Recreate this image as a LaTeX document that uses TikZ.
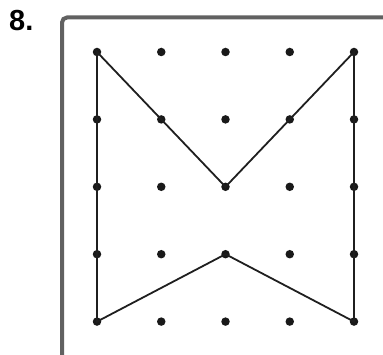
\documentclass[tikz,border=0pt]{standalone}
\usepackage{fontspec}
\setmainfont{Liberation Sans}
\usetikzlibrary{positioning}

\begin{document}
\begin{tikzpicture}[x=1pt, y=-1pt,
  pegdot/.style={circle, fill=black!90, minimum size=8.5pt, inner sep=0pt},
  frameline/.style={line width=4pt, black!62, rounded corners=5pt},
  bandline/.style={line width=1.8pt, black!88, line join=miter},
  every node/.style={font=\bfseries},
]

%% ============ PAGE AREA ============
\useasboundingbox (0,0) rectangle (383,355);

%% ============ EXERCISE NUMBER ============
\node[font=\fontsize{29}{30}\selectfont\bfseries, anchor=north west, inner sep=0pt] (num) at (9,10) {8.};

%% ============ BOARD FRAME ============
\draw[frameline] (62,360) -- (62,17.5) -- (390,17.5);

%% ============ GEOBOARD PEGS ============
\foreach \i in {0,...,4}{
  \foreach \j in {0,...,4}{
    \node[pegdot] (p\i\j) at (97+64.25*\i, 52+67.4*\j) {};
  }
}

%% ============ RUBBER BAND ============
\draw[bandline] (p00.center) -- (p22.center) -- (p40.center) -- (p44.center)
  -- (p23.center) -- (p04.center) -- cycle;

\end{tikzpicture}
\end{document}
